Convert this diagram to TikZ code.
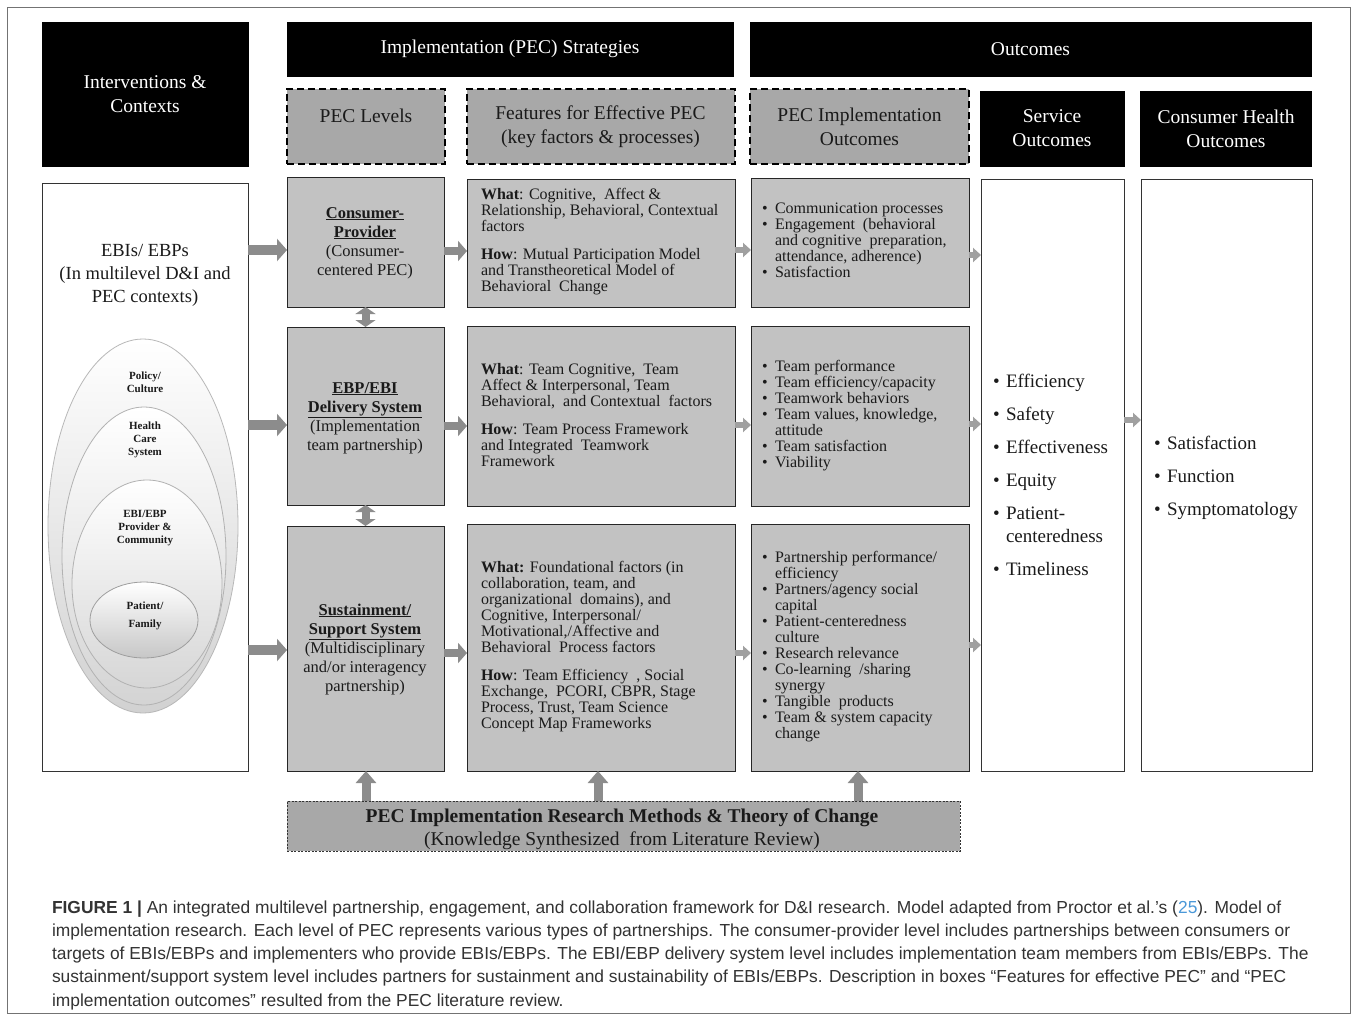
\documentclass[tikz,border=0pt]{standalone}
\usepackage{fontspec}
\setmainfont{Liberation Serif}
\newfontfamily\capfont{Liberation Sans}
\usetikzlibrary{arrows.meta}
\definecolor{boxgray}{HTML}{C2C2C2}
\definecolor{hdrgray}{HTML}{A8A8A8}
\definecolor{arrgray}{HTML}{8C8C8C}
\definecolor{arrlight}{HTML}{A0A0A0}
\definecolor{txtcol}{HTML}{1A1A1A}
\definecolor{capcol}{HTML}{333333}
\definecolor{linkblue}{HTML}{4A98D8}
\newcommand{\fl}{\rule{0pt}{12pt}}
\newcommand{\bul}{\makebox[13pt][l]{\textbullet}}
\newcommand{\ind}{\hspace*{13pt}}
\begin{document}
\begin{tikzpicture}[x=1pt,y=-1pt,
  every node/.style={inner sep=0pt,outer sep=0pt,text=txtcol},
  blackhdr/.style={draw=black,fill=black,text=white,align=center,font=\fontsize{19.5}{24}\selectfont},
  dashhdr/.style={draw=black,fill=hdrgray,line width=2pt,dash pattern=on 7pt off 4pt,align=center,font=\fontsize{19.5}{24}\selectfont},
  gbox/.style={draw=black!85,fill=boxgray,line width=1pt},
  wbox/.style={draw=black!80,fill=white,line width=1pt},
  body/.style={anchor=north west,align=left,font=\fontsize{16}{16}\selectfont},
  lvl/.style={anchor=north,align=center,font=\fontsize{16.5}{19}\selectfont},
  outl/.style={anchor=north west,align=left,font=\fontsize{19}{23}\selectfont},
  ell/.style={font=\fontsize{11}{13}\selectfont\bfseries,align=center,anchor=north},
  capline/.style={anchor=base west,text=capcol,font=\capfont\fontsize{17.4}{20}\selectfont},
  bigarrow/.style={line width=10pt,draw=arrgray,-{Triangle[length=10pt,width=22pt]}},
  midarrow/.style={line width=8pt,draw=arrgray,-{Triangle[length=9pt,width=20pt]}},
  smallarrow/.style={line width=6pt,draw=arrlight,-{Triangle[length=8pt,width=14pt]}},
  dblarrow/.style={line width=8pt,draw=arrgray,{Triangle[length=7pt,width=20pt]}-{Triangle[length=7pt,width=20pt]}},
  uparrow/.style={line width=9pt,draw=arrgray,-{Triangle[length=12pt,width=20pt]}}
]
\useasboundingbox (0,0) rectangle (1357,1020);
\fill[white] (0,0) rectangle (1357,1020);
\draw[black!55,line width=0.8pt] (7,7) rectangle (1350,1013);

% headers
\node[blackhdr,minimum width=206,minimum height=144] (ic) at (145,94) {Interventions \&\\Contexts};
\node[blackhdr,minimum width=446,minimum height=54] (strat) at (510,49) {Implementation (PEC) Strategies};
\node[blackhdr,minimum width=561,minimum height=54] (outc) at (1030.5,49) {Outcomes};
\node[dashhdr,minimum width=158,minimum height=75] (lev) at (366,126.5) {};
\node[font=\fontsize{19.5}{24}\selectfont] (levt) at (366,116) {PEC Levels};
\node[dashhdr,minimum width=268,minimum height=75] (feat) at (600.5,126.5) {Features for Effective PEC\\(key factors \& processes)};
\node[dashhdr,minimum width=219,minimum height=75] (pio) at (859.5,126.5) {PEC Implementation\\Outcomes};
\node[blackhdr,minimum width=144,minimum height=75] (so) at (1052,128.5) {Service\\Outcomes};
\node[blackhdr,minimum width=171,minimum height=75] (cho) at (1226,128.5) {Consumer Health\\Outcomes};

% boxes
\node[wbox,minimum width=206,minimum height=588] (lb) at (145,477) {};
\node[gbox,minimum width=157,minimum height=130] (cp) at (365.5,242) {};
\node[gbox,minimum width=157,minimum height=178] (ds) at (365.5,416) {};
\node[gbox,minimum width=157,minimum height=245] (ss) at (365.5,648.5) {};
\node[gbox,minimum width=268,minimum height=128] (f1) at (601,243) {};
\node[gbox,minimum width=268,minimum height=180] (f2) at (601,416) {};
\node[gbox,minimum width=268,minimum height=247] (f3) at (601,647.5) {};
\node[gbox,minimum width=218,minimum height=129] (o1) at (860,242.5) {};
\node[gbox,minimum width=218,minimum height=180] (o2) at (860,416) {};
\node[gbox,minimum width=218,minimum height=247] (o3) at (860,647.5) {};
\node[wbox,minimum width=143,minimum height=592] (sv) at (1052.5,475) {};
\node[wbox,minimum width=171,minimum height=592] (ch) at (1226.5,475) {};
\node[draw=black!80,fill=hdrgray,line width=0.8pt,dash pattern=on 2pt off 1.5pt,minimum width=673,minimum height=50] (bt) at (623.5,826) {};

% left box contents
\node[anchor=north,align=center,font=\fontsize{18.5}{23}\selectfont] (lbt) at (145,243) {\rule{0pt}{13pt}EBIs/ EBPs\\(In multilevel D\&I and\\PEC contexts)};
\shade[top color=white,bottom color=black!18,draw=black!28,line width=0.8pt] (143,526) ellipse [x radius=95,y radius=187];
\shade[top color=white,bottom color=black!17,draw=black!30,line width=0.8pt] (144,556) ellipse [x radius=82,y radius=149];
\shade[top color=white,bottom color=black!16,draw=black!30,line width=0.8pt] (147,584) ellipse [x radius=75,y radius=104];
\shade[top color=white,bottom color=black!22,draw=black!38,line width=0.8pt] (144,620) ellipse [x radius=54,y radius=38];
\node[ell] (e1) at (145,370) {\rule{0pt}{9pt}Policy/\\Culture};
\node[ell] (e2) at (145,420) {\rule{0pt}{9pt}Health\\Care\\System};
\node[ell] (e3) at (145,508) {\rule{0pt}{9pt}EBI/EBP\\Provider \&\\Community};
\node[ell] (e4) at (145,600) {\rule{0pt}{9pt}Patient/\\[5pt]Family};

% PEC level texts
\node[lvl] (cpt) at (365,206) {\fl\underline{\textbf{Consumer-}}\\\underline{\textbf{Provider}}\\(Consumer-\\centered PEC)};
\node[lvl] (dst) at (365,381) {\fl\underline{\textbf{EBP/EBI}}\\\underline{\textbf{Delivery System}}\\(Implementation\\team partnership)};
\node[lvl] (sst) at (365,603) {\fl\underline{\textbf{Sustainment/}}\\\underline{\textbf{Support System}}\\(Multidisciplinary\\and/or interagency\\partnership)};

% features texts
\node[body] (f1t) at (481,187) {\fl\textbf{What}: Cognitive,\ \ Affect \&\\Relationship, Behavioral, Contextual\\factors\\[12pt]\textbf{How}: Mutual Participation Model\\and Transtheoretical Model of\\Behavioral\ \ Change};
\node[body] (f2t) at (481,362) {\fl\textbf{What}: Team Cognitive,\ \ Team\\Affect \& Interpersonal, Team\\Behavioral,\ \ and Contextual\ \ factors\\[12pt]\textbf{How}: Team Process Framework\\and Integrated\ \ Teamwork\\Framework};
\node[body] (f3t) at (481,560) {\fl\textbf{What:} Foundational factors (in\\collaboration, team, and\\organizational\ \ domains), and\\Cognitive, Interpersonal/\\Motivational,/Affective and\\Behavioral\ \ Process factors\\[12pt]\textbf{How}: Team Efficiency\ \ , Social\\Exchange,\ \ PCORI, CBPR, Stage\\Process, Trust, Team Science\\Concept Map Frameworks};

% implementation outcomes texts
\node[body] (o1t) at (762,201) {\fl\bul Communication processes\\\bul Engagement\ \ (behavioral\\\ind and cognitive\ \ preparation,\\\ind attendance, adherence)\\\bul Satisfaction};
\node[body] (o2t) at (762,359) {\fl\bul Team performance\\\bul Team efficiency/capacity\\\bul Teamwork behaviors\\\bul Team values, knowledge,\\\ind attitude\\\bul Team satisfaction\\\bul Viability};
\node[body] (o3t) at (762,550) {\fl\bul Partnership performance/\\\ind efficiency\\\bul Partners/agency social\\\ind capital\\\bul Patient-centeredness\\\ind culture\\\bul Research relevance\\\bul Co-learning\ \ /sharing\\\ind synergy\\\bul Tangible\ \ products\\\bul Team \& system capacity\\\ind change};

% service & consumer outcomes
\node[outl] (svt) at (993,373) {\rule{0pt}{14pt}\bul Efficiency\\[10pt]\bul Safety\\[10pt]\bul Effectiveness\\[10pt]\bul Equity\\[10pt]\bul Patient-\\\ind centeredness\\[10pt]\bul Timeliness};
\node[outl] (cht) at (1154,435) {\rule{0pt}{14pt}\bul Satisfaction\\[10pt]\bul Function\\[10pt]\bul Symptomatology};

% bottom box text
\node[anchor=north,align=center,font=\fontsize{19.5}{23}\selectfont] (btt) at (622,808) {\rule{0pt}{14pt}\textbf{PEC Implementation Research Methods \& Theory of Change}\\(Knowledge Synthesized\ \ from Literature Review)};

% arrows
\draw[bigarrow] (lb.east |- 0,250) -- (cp.west |- 0,250);
\draw[bigarrow] (lb.east |- 0,425) -- (ds.west |- 0,425);
\draw[bigarrow] (lb.east |- 0,650) -- (ss.west |- 0,650);
\draw[midarrow] (cp.east |- 0,251) -- (f1.west |- 0,251);
\draw[midarrow] (ds.east |- 0,426) -- (f2.west |- 0,426);
\draw[midarrow] (ss.east |- 0,653) -- (f3.west |- 0,653);
\draw[smallarrow] (f1.east |- 0,250) -- (o1.west |- 0,250);
\draw[smallarrow] (f2.east |- 0,425) -- (o2.west |- 0,425);
\draw[smallarrow] (f3.east |- 0,653) -- (o3.west |- 0,653);
\draw[smallarrow] (o1.east |- 0,255) -- (sv.west |- 0,255);
\draw[smallarrow] (o2.east |- 0,424) -- (sv.west |- 0,424);
\draw[smallarrow] (o3.east |- 0,645) -- (sv.west |- 0,645);
\draw[smallarrow] (sv.east |- 0,420) -- (ch.west |- 0,420);
\draw[dblarrow] (cp.south) -- (ds.north);
\draw[dblarrow] (ds.south) -- (ss.north);
\draw[uparrow] (bt.north -| 366,0) -- (ss.south -| 366,0);
\draw[uparrow] (bt.north -| 598,0) -- (f3.south -| 598,0);
\draw[uparrow] (bt.north -| 858,0) -- (o3.south -| 858,0);

% caption
\node[capline] (c1) at (52,913) {\textbf{FIGURE 1 |} An integrated multilevel partnership, engagement, and collaboration framework for D\&I research. Model adapted from Proctor et al.’s ({\color{linkblue}25}). Model of};
\node[capline] (c2) at (52,936) {implementation research. Each level of PEC represents various types of partnerships. The consumer-provider level includes partnerships between consumers or};
\node[capline] (c3) at (52,959) {targets of EBIs/EBPs and implementers who provide EBIs/EBPs. The EBI/EBP delivery system level includes implementation team members from EBIs/EBPs. The};
\node[capline] (c4) at (52,982) {sustainment/support system level includes partners for sustainment and sustainability of EBIs/EBPs. Description in boxes “Features for effective PEC” and “PEC};
\node[capline] (c5) at (52,1006) {implementation outcomes” resulted from the PEC literature review.};
\end{tikzpicture}
\end{document}
